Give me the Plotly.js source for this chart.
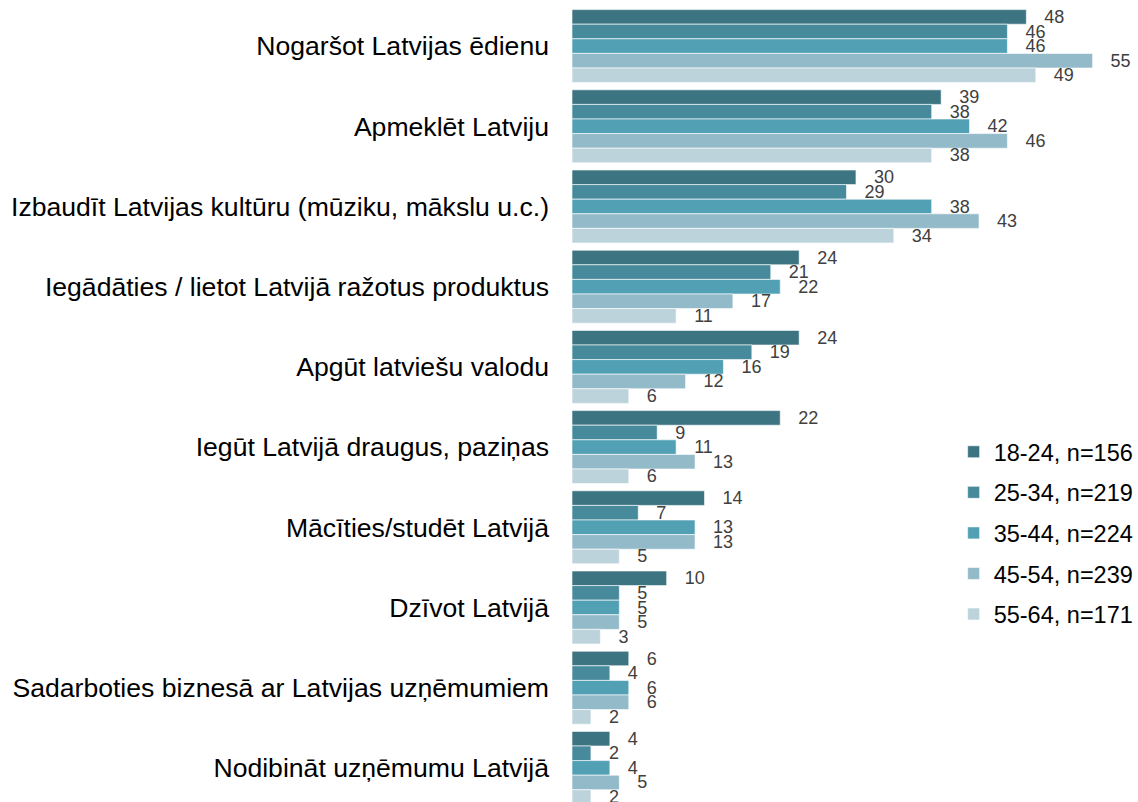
<!DOCTYPE html>
<html>
<head>
<meta charset="utf-8">
<script src="https://cdn.plot.ly/plotly-3.0.1.min.js"></script>
<style>
html,body{margin:0;padding:0;overflow:hidden;background:#fff;}
#chart{width:1138px;height:812px;}
</style>
</head>
<body>
<div id="chart"></div>
<script>
const categories = [
  "Nogaršot Latvijas ēdienu",
  "Apmeklēt Latviju",
  "Izbaudīt Latvijas kultūru (mūziku, mākslu u.c.)",
  "Iegādāties / lietot Latvijā ražotus produktus",
  "Apgūt latviešu valodu",
  "Iegūt Latvijā draugus, paziņas",
  "Mācīties/studēt Latvijā",
  "Dzīvot Latvijā",
  "Sadarboties biznesā ar Latvijas uzņēmumiem",
  "Nodibināt uzņēmumu Latvijā"
];
const seriesNames = ["18-24, n=156", "25-34, n=219", "35-44, n=224", "45-54, n=239", "55-64, n=171"];
const age18_24 = [48, 39, 30, 24, 24, 22, 14, 10, 6, 4];
const age25_34 = [46, 38, 29, 21, 19, 9, 7, 5, 4, 2];
const age35_44 = [46, 42, 38, 22, 16, 11, 13, 5, 6, 4];
const age45_54 = [55, 46, 43, 17, 12, 13, 13, 5, 6, 5];
const age55_64 = [49, 38, 34, 11, 6, 6, 5, 3, 2, 2];
const colors = ["#3d7482", "#468a9b", "#52a0b4", "#93bac9", "#bcd3dc"];

const allSeries = [age18_24, age25_34, age35_44, age45_54, age55_64];
const pad = "\u00a0\u00a0\u00a0";
const traces = allSeries.map((vals, i) => ({
  type: "bar",
  orientation: "h",
  name: seriesNames[i],
  y: categories,
  x: vals,
  text: vals.map(v => pad + v),
  textposition: "outside",
  constraintext: "none",
  cliponaxis: false,
  textfont: {family: "Liberation Sans, Arial, sans-serif", size: 18, color: "#404040"},
  marker: {color: colors[i], line: {color: "rgba(255,255,255,0.6)", width: 1}},
  legendgroup: "g" + i,
  hoverinfo: "none"
}));

const layout = {
  width: 1138,
  height: 812,
  margin: {l: 572, r: 17, t: 6, b: 4, autoexpand: false},
  paper_bgcolor: "#fff",
  plot_bgcolor: "#fff",
  barmode: "group",
  bargap: 0.09,
  bargroupgap: 0,
  font: {family: "Liberation Sans, Arial, sans-serif", color: "#000"},
  xaxis: {visible: false, range: [0, 58], fixedrange: true, automargin: false},
  yaxis: {
    autorange: "reversed",
    showgrid: false, zeroline: false, showline: false, ticks: "",
    ticklabelstandoff: 22,
    tickfont: {size: 26.6, color: "#000"},
    fixedrange: true,
    automargin: false
  },
  showlegend: true,
  legend: {
    xref: "container", yref: "container",
    x: 0.838, y: 1 - 430/812, xanchor: "left", yanchor: "top",
    traceorder: "grouped",
    tracegroupgap: 7,
    font: {size: 23.5, color: "#000"},
    bgcolor: "rgba(0,0,0,0)"
  }
};

Plotly.newPlot("chart", traces, layout, {displayModeBar: false, staticPlot: true});
</script>
</body>
</html>
